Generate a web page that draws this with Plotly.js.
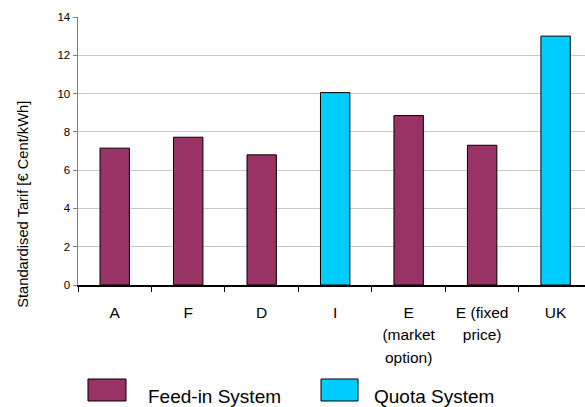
<!DOCTYPE html>
<html>
<head>
<meta charset="utf-8">
<script src="https://cdn.plot.ly/plotly-3.0.1.min.js"></script>
<style>html,body{margin:0;padding:0;background:#fff;}#chart{width:585px;height:407px;}</style>
</head>
<body>
<div id="chart"></div>
<script>
// Data
const categories = ["A", "F", "D", "I", "E<br>(market<br>option)", "E (fixed<br>price)", "UK"];
const feedInValues = [7.15, 7.72, 6.8, null, 8.85, 7.3, null];
const quotaValues = [null, null, null, 10.05, null, null, 13.0];
const seriesNames = ["Feed-in System", "Quota System"];
const seriesColors = ["#993366", "#00CCFF"];
const yTitle = "Standardised Tarif [€ Cent/kWh]";

const tickText = categories.map(c => '<span style="font-size:15.5px">' + c + '</span>');

const traces = [
  {type: "bar", x: categories, y: feedInValues, name: seriesNames[0], width: 0.4,
   marker: {color: seriesColors[0], line: {color: "#000", width: 1}}, showlegend: false, hoverinfo: "none"},
  {type: "bar", x: categories, y: quotaValues, name: seriesNames[1], width: 0.4,
   marker: {color: seriesColors[1], line: {color: "#000", width: 1}}, showlegend: false, hoverinfo: "none"}
];

const legendBoxes = [
  {x0: 0.0197, x1: 0.0947},
  {x0: 0.4793, x1: 0.5523}
];
const shapes = legendBoxes.map((b, i) => ({
  type: "rect", xref: "paper", yref: "paper", x0: b.x0, x1: b.x1, y0: -0.4328, y1: -0.3507,
  fillcolor: seriesColors[i], line: {color: "#000", width: 1}
}));
const annotations = [
  {text: seriesNames[0], xref: "paper", yref: "paper", x: 0.134, y: -0.415, xanchor: "left", yanchor: "middle",
   showarrow: false, font: {size: 19, color: "#000"}},
  {text: seriesNames[1], xref: "paper", yref: "paper", x: 0.5798, y: -0.415, xanchor: "left", yanchor: "middle",
   showarrow: false, font: {size: 19, color: "#000"}},
  {text: yTitle, xref: "paper", yref: "paper", x: -0.11, y: 0.30, xanchor: "center", yanchor: "middle",
   textangle: -90, showarrow: false, font: {size: 14.7, color: "#000"}}
];

const layout = {
  width: 585, height: 407,
  margin: {l: 78, r: 0, t: 17, b: 122, pad: 0},
  paper_bgcolor: "#fff", plot_bgcolor: "#fff",
  font: {family: "Liberation Sans, Arial, sans-serif", color: "#000"},
  barmode: "overlay",
  showlegend: false,
  xaxis: {
    type: "category", range: [-0.5, 6.4], tickson: "boundaries",
    ticks: "outside", ticklen: 5, tickcolor: "#000", tickwidth: 1,
    showline: true, linecolor: "#000", linewidth: 1.5,
    showgrid: false, zeroline: false,
    tickvals: categories, ticktext: tickText, ticklabelstandoff: 10,
    tickfont: {size: 17.5, color: "#000"}, tickangle: 0, automargin: false
  },
  yaxis: {
    range: [0, 14], dtick: 2, tick0: 0,
    ticks: "outside", ticklen: 4, tickcolor: "#808080", tickwidth: 1,
    showline: true, linecolor: "#808080", linewidth: 1.5,
    showgrid: true, gridcolor: "#c8c8c8", gridwidth: 1, zeroline: false,
    tickfont: {size: 11.5, color: "#000"}, automargin: false
  },
  shapes: shapes,
  annotations: annotations
};

Plotly.newPlot("chart", traces, layout, {staticPlot: true, displayModeBar: false});
</script>
</body>
</html>
